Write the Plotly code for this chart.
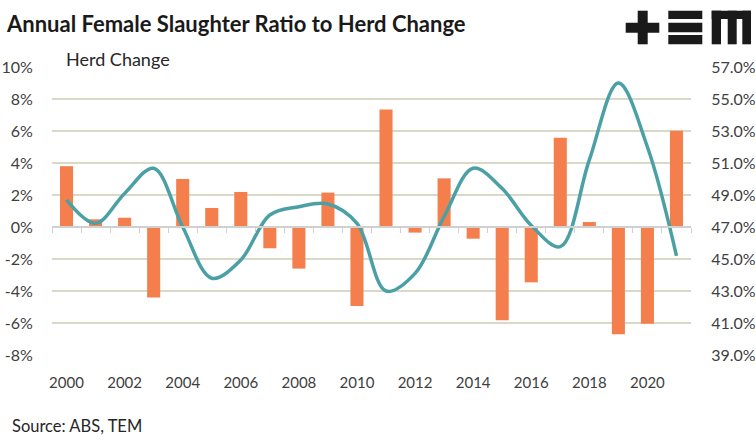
import plotly.graph_objects as go

years = list(range(2000, 2022))
herd_change = [3.8, 0.48, 0.58, -4.4, 3.0, 1.19, 2.19, -1.33, -2.6, 2.15, -4.94, 7.35,
               -0.35, 3.04, -0.73, -5.83, -3.46, 5.58, 0.31, -6.71, -6.04, 6.02]
female_ratio = [48.69, 47.23, 49.1, 50.67, 47.0, 43.8, 44.94, 47.75, 48.27, 48.44, 47.23, 43.0,
                44.1, 47.65, 50.67, 49.4, 47.1, 45.77, 51.2, 56.0, 52.0, 45.2]

left_vals = [-8, -6, -4, -2, 0, 2, 4, 6, 8, 10]
left_text = ["-8%", "-6%", "-4%", "-2%", "0%", "2%", "4%", "6%", "8%", "10%"]
right_vals = [39, 41, 43, 45, 47, 49, 51, 53, 55, 57]
right_text = ["39.0%", "41.0%", "43.0%", "45.0%", "47.0%", "49.0%", "51.0%", "53.0%", "55.0%", "57.0%"]
x_ticks = list(range(2000, 2021, 2))

W, H = 756, 440
L, R, T, B = 52, 691, 67, 355
FONT = "Lato"
TXT = "#404040"
GRID = "#d9d9c6"


def fx(px):
    return (px - L) / (R - L)


def fy(py):
    return (B - py) / (B - T)


fig = go.Figure()
fig.add_trace(go.Bar(x=years, y=herd_change, marker=dict(color="#F47F4C", line=dict(width=0)),
                     width=0.45, name="Herd Change", yaxis="y"))
fig.add_trace(go.Scatter(x=years, y=female_ratio, mode="lines", name="Female Slaughter Ratio",
                         line=dict(color="#4BA0A6", width=3.5, shape="spline", smoothing=1.0),
                         yaxis="y2"))
# helper trace so the zero-line category axis is drawn
fig.add_trace(go.Scatter(x=[years[0]], y=[0], mode="markers", marker=dict(opacity=0),
                         xaxis="x2", yaxis="y", hoverinfo="skip", showlegend=False))

shapes = []
logo_rects = [
    (625.7, 22.7, 659.3, 32.7), (637.7, 10.7, 647.7, 44.3),
    (668.3, 10.7, 702.3, 19.0), (668.3, 22.7, 702.3, 32.3), (668.3, 35.0, 702.3, 44.3),
    (711.7, 10.7, 751.0, 19.0), (711.7, 10.7, 721.0, 44.3), (727.7, 10.7, 736.7, 44.3),
    (742.3, 10.7, 751.0, 44.3),
]
for x0, y0, x1, y1 in logo_rects:
    shapes.append(dict(type="rect", xref="paper", yref="paper", x0=fx(x0), x1=fx(x1),
                       y0=fy(y1), y1=fy(y0), fillcolor="#1a1a1a", line=dict(width=0), layer="above"))

fig.update_layout(
    width=W, height=H,
    margin=dict(l=L, r=W - R, t=T, b=H - B),
    paper_bgcolor="white", plot_bgcolor="white",
    showlegend=False,
    bargap=0.55,
    font=dict(family=FONT, color=TXT, size=15),
    title=dict(text="<b>Annual Female Slaughter Ratio to Herd Change</b>", xref="container",
               yref="container", x=7 / W, xanchor="left", y=1 - 24 / H, yanchor="middle",
               font=dict(family=FONT, size=22, color="#1a1a1a")),
    xaxis=dict(range=[1999.5, 2021.5], tickmode="array", tickvals=x_ticks,
               ticktext=[str(v) for v in x_ticks], showgrid=False, zeroline=False,
               showline=False, ticks="outside", ticklen=14, tickcolor="rgba(0,0,0,0)",
               tickfont=dict(size=15, color=TXT), automargin=False),
    xaxis2=dict(range=[1999.5, 2021.5], overlaying="x", anchor="free", position=8 / 18,
                tickmode="array", tickvals=[y - 0.5 for y in years] + [2021.5],
                showticklabels=False, ticks="outside", ticklen=5, tickwidth=1.2,
                tickcolor="#d0d0d0", showline=True, linecolor="#d0d0d0", linewidth=1.5,
                showgrid=False, zeroline=False, automargin=False),
    yaxis=dict(range=[-8, 10], tickmode="array", tickvals=left_vals, ticktext=left_text,
               showgrid=True, gridcolor=GRID, gridwidth=1.5, zeroline=False, showline=False,
               ticks="outside", ticklen=15, tickcolor="rgba(0,0,0,0)",
               tickfont=dict(size=16, color=TXT), automargin=False),
    yaxis2=dict(range=[39, 57], tickmode="array", tickvals=right_vals, ticktext=right_text,
                overlaying="y", side="right", showgrid=False, zeroline=False, showline=False,
                ticks="outside", ticklen=16, tickcolor="rgba(0,0,0,0)",
                tickfont=dict(size=16, color=TXT), automargin=False),
    shapes=shapes,
    annotations=[
        dict(text="Herd Change", xref="paper", yref="paper", x=fx(64), y=fy(59),
             xanchor="left", yanchor="middle", showarrow=False,
             font=dict(family=FONT, size=18, color="#262626")),
        dict(text="Source: ABS, TEM", xref="paper", yref="paper", x=fx(10), y=fy(426),
             xanchor="left", yanchor="middle", showarrow=False,
             font=dict(family=FONT, size=16.5, color="#262626")),
    ],
)

fig.write_html("out.html")
